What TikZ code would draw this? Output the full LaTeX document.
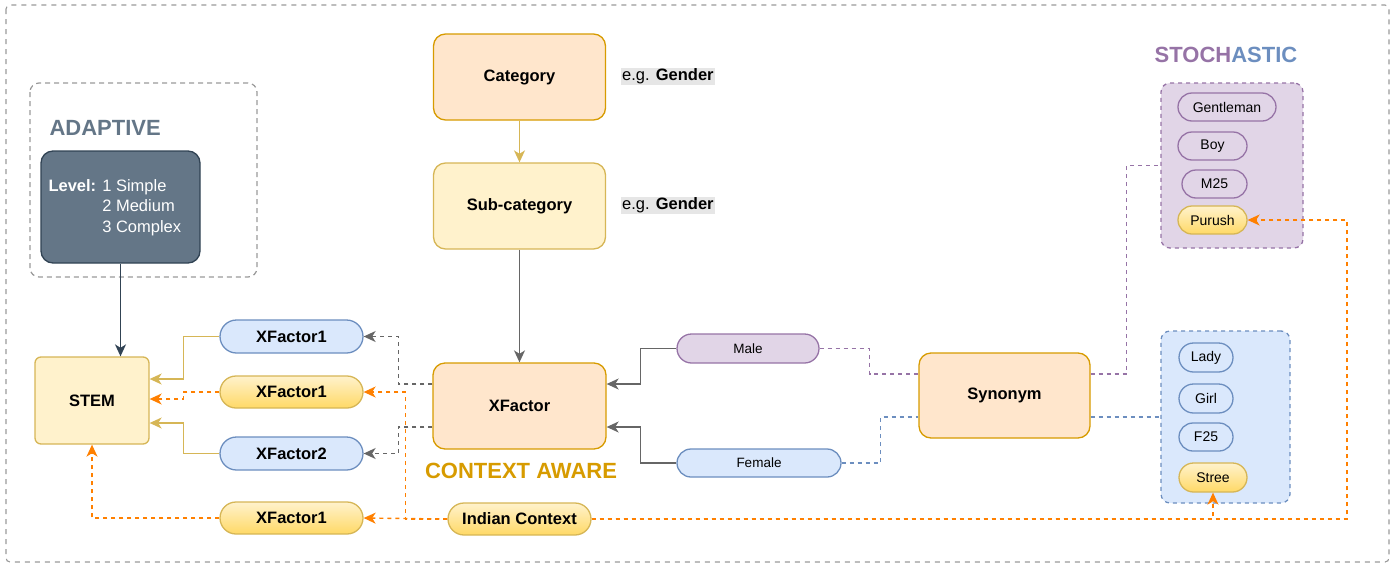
\documentclass[tikz,border=0pt]{standalone}
\usepackage{fontspec}
\setmainfont{Liberation Sans}
\usetikzlibrary{arrows.meta,calc,shapes.misc}
\definecolor{ggray}{HTML}{999999}
\definecolor{dgray}{HTML}{666666}
\definecolor{slatef}{HTML}{647687}
\definecolor{slated}{HTML}{314354}
\definecolor{yelf}{HTML}{FFF2CC}
\definecolor{yeld}{HTML}{D6B656}
\definecolor{yelg}{HTML}{FFD966}
\definecolor{orf}{HTML}{FFE6CC}
\definecolor{ord}{HTML}{D79B00}
\definecolor{blf}{HTML}{DAE8FC}
\definecolor{bld}{HTML}{6C8EBF}
\definecolor{puf}{HTML}{E1D5E7}
\definecolor{pud}{HTML}{9673A6}
\definecolor{orl}{HTML}{FF8000}
\definecolor{egbg}{HTML}{E6E6E6}
\tikzset{
  box/.style={draw, line width=1.3pt, rounded corners=12pt, inner sep=0pt, font=\fontsize{16.5}{19}\selectfont\bfseries},
  orbox/.style={box, fill=orf, draw=ord},
  yebox/.style={box, fill=yelf, draw=yeld},
  pill/.style={rounded rectangle, draw, line width=1.3pt, inner sep=0pt, minimum height=#1},
  pill/.default=32pt,
  bluepill/.style={pill=#1, fill=blf, draw=bld},
  purppill/.style={pill=#1, fill=puf, draw=pud},
  goldpill/.style={pill=#1, top color=yelf, bottom color=yelg, draw=yeld},
  big/.style={font=\fontsize{16.5}{19}\selectfont\bfseries},
  small/.style={font=\fontsize{14}{16}\selectfont},
  title/.style={font=\fontsize{22}{26}\selectfont\bfseries},
  arr/.style={-{Stealth[length=12pt,width=11pt,inset=3.5pt]}},
  conn/.style={line width=1.4pt},
  dsh/.style={dash pattern=on 4pt off 4pt},
  grayarr/.style={conn, arr, draw=dgray},
  orarr/.style={conn, arr, dsh, draw=orl},
}
\begin{document}
\begin{tikzpicture}[x=1pt,y=-1pt]
\useasboundingbox (0,0) rectangle (1395,563);
% outer frame
\draw[ggray, line width=1.1pt, dash pattern=on 5pt off 5pt, rounded corners=4pt] (6,5) rectangle (1389,562);
% ADAPTIVE group
\draw[ggray, line width=1.2pt, dash pattern=on 5pt off 4pt, rounded corners=9pt] (30,83) rectangle (257,277);
\node[title, text=slatef, anchor=west] (adt) at (46,128) {ADAPTIVE};
\node[box, fill=slatef, draw=slated, minimum width=159pt, minimum height=112pt] (level) at (120.5,207) {};
\node[anchor=west, text=white, align=left, font=\fontsize{16.5}{20.5}\selectfont] (leveltxt) at (45,207.5)
  {\textbf{Level:} 1 Simple\\\hphantom{\textbf{Level:} }2 Medium\\\hphantom{\textbf{Level:} }3 Complex};
% STEM
\node[yebox, rounded corners=6pt, minimum width=114pt, minimum height=87pt] (stem) at (92,400.5) {STEM};
% XFactor pills
\node[bluepill=33pt, minimum width=143pt, big] (xf1a) at (291.5,336.5) {XFactor1};
\node[goldpill=32pt, minimum width=143pt, big] (xf1b) at (291.5,392) {XFactor1};
\node[bluepill=33pt, minimum width=143pt, big] (xf2) at (291.5,453.5) {XFactor2};
\node[goldpill=32pt, minimum width=143pt, big] (xf1c) at (291.5,518) {XFactor1};
% Category column
\node[orbox, minimum width=172pt, minimum height=86pt] (cat) at (519.5,77) {Category};
\node[yebox, minimum width=172pt, minimum height=86pt] (sub) at (519.5,206) {Sub-category};
\node[orbox, minimum width=173pt, minimum height=86pt] (xf) at (519.5,406) {XFactor};
\node[title, text=ord] (ctx) at (521,470.5) {CONTEXT AWARE};
\node[fill=egbg, inner sep=1pt, anchor=west, font=\fontsize{16.5}{19}\selectfont] (eg1) at (621,76.5) {e.g. \textbf{Gender}};
\node[fill=egbg, inner sep=1pt, anchor=west, font=\fontsize{16.5}{19}\selectfont] (eg2) at (621,205.5) {e.g. \textbf{Gender}};
% Male / Female
\node[purppill=29pt, minimum width=142pt, font=\fontsize{13.5}{16}\selectfont] (male) at (748,348.5) {Male};
\node[bluepill=28pt, minimum width=164pt, font=\fontsize{13.5}{16}\selectfont] (female) at (759,463) {Female};
% Indian context
\node[goldpill=32pt, minimum width=143pt, big] (ind) at (519.5,519) {Indian Context};
% Synonym
\node[orbox, minimum width=171pt, minimum height=85pt] (syn) at (1004.5,395.5) {Synonym};
% STOCHASTIC
\node[title] (sto) at (1226,55) {\textcolor{pud}{STOCH}\textcolor{bld}{ASTIC}};
\node[draw=pud, fill=puf, line width=1.3pt, dsh, rounded corners=9pt, minimum width=142pt, minimum height=165pt, inner sep=0pt] (pbox) at (1232,165.5) {};
\node[purppill=28pt, minimum width=98pt, small] (gent) at (1227,107) {Gentleman};
\node[purppill=28pt, minimum width=69pt, small] (boy) at (1212.5,146) {Boy};
\node[purppill=28pt, minimum width=65pt, small] (m25) at (1214.5,184) {M25};
\node[goldpill=28pt, minimum width=69pt, small] (purush) at (1212.5,220) {Purush};
\node[draw=bld, fill=blf, line width=1.3pt, dsh, rounded corners=9pt, minimum width=129pt, minimum height=172pt, inner sep=0pt] (bbox) at (1225.5,417) {};
\node[bluepill=29pt, minimum width=54pt, small] (lady) at (1206,357.5) {Lady};
\node[bluepill=29pt, minimum width=54pt, small] (girl) at (1206,398.5) {Girl};
\node[bluepill=28pt, minimum width=54pt, small] (f25) at (1206,437) {F25};
\node[goldpill=29pt, minimum width=68pt, small] (stree) at (1213,477.5) {Stree};
% ---- connectors ----
\draw[conn, arr, draw=slated] (level.south) -- (level.south |- stem.north);
\draw[conn, arr, draw=yeld] (xf1a.west) -- ++(-36,0) |- ([yshift=21.5pt]stem.east);
\draw[orarr] (xf1b.west) -- ++(-36,0) |- ([yshift=1.5pt]stem.east);
\draw[conn, arr, draw=yeld] (xf2.west) -- ++(-36,0) |- ([yshift=-22.5pt]stem.east);
\draw[orarr] (xf1c.west) -| (stem.south);
\draw[conn, arr, draw=yeld] (cat.south) -- (sub.north);
\draw[grayarr] (sub.south) -- (xf.north);
\draw[grayarr, dsh] ([yshift=22pt]xf.west) -- ++(-34,0) |- (xf1a.east);
\draw[grayarr, dsh] ([yshift=-21pt]xf.west) -- ++(-34,0) |- (xf2.east);
\draw[grayarr] (male.west) -- ++(-36,0) |- ([yshift=22pt]xf.east);
\draw[grayarr] (female.west) -- ++(-36,0) |- ([yshift=-21pt]xf.east);
\draw[orarr] (ind.west) -- ++(-42,0) |- (xf1b.east);
\draw[orarr] (ind.west) -- (xf1c.east);
\coordinate (oc) at (1347,519);
\draw[orarr] (ind.east) -| (stree.south);
\draw[orarr] (ind.east) -- (oc) |- (purush.east);
\draw[conn, dsh, draw=pud] (male.east) -- ++(50,0) |- ([yshift=21.5pt]syn.west);
\draw[conn, dsh, draw=bld] (female.east) -- ++(39,0) |- ([yshift=-21.5pt]syn.west);
\draw[conn, dsh, draw=pud] ([yshift=21.5pt]syn.east) -- ++(36,0) |- (pbox.west);
\draw[conn, dsh, draw=bld] ([yshift=-21.5pt]syn.east) -- (bbox.west);
\end{tikzpicture}
\end{document}
